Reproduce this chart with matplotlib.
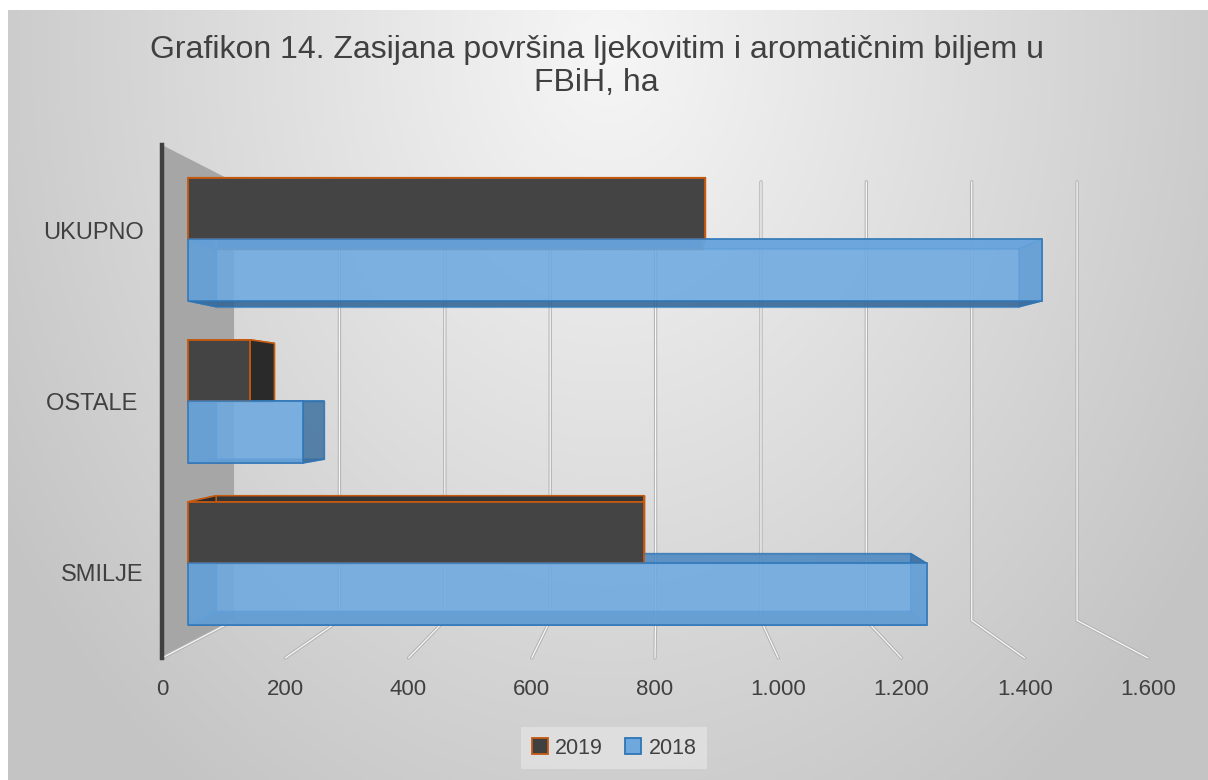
import matplotlib.pyplot as plt
import numpy as np
from matplotlib.patches import Polygon, Patch
from matplotlib.ticker import FuncFormatter

plt.rcParams['font.family'] = ['Liberation Sans', 'DejaVu Sans']

# Podaci (ha)
kategorije = ['SMILJE', 'OSTALE ', 'UKUPNO']
god_2019 = [780, 106, 886]
god_2018 = [1265, 197, 1462]
x_ticks = [0, 200, 400, 600, 800, 1000, 1200, 1400, 1600]

W, H = 1208, 780
fig = plt.figure(figsize=(W / 100, H / 100), dpi=100)
fig.patch.set_facecolor('white')

# pozadina - radijalni gradijent
bg = fig.add_axes([8 / W, 0, (W - 8) / W, (H - 10) / H], zorder=0)
yy, xx = np.mgrid[0:H, 0:W]
r = np.sqrt(((xx - 0.5 * W) / (0.55 * W)) ** 2 + ((yy - 0.05 * H) / (1.1 * H)) ** 2)
val = np.clip(0.965 - 0.18 * r, 0.77, 1)
bg.imshow(np.dstack([val, val, val]), aspect='auto', extent=(0, 1, 0, 1))
bg.axis('off')

# perspektiva: svaka ravan je skalirana oko tacke nestajanja
VX, VY = 659, 399
FRONT = (162, 1148, 145, 658)


def ravan(kx, ky, z):
    l = VX - (VX - FRONT[0]) * kx
    rr = VX + (FRONT[1] - VX) * kx
    t = VY - (VY - FRONT[2]) * ky
    b = VY + (FRONT[3] - VY) * ky
    ax = fig.add_axes([l / W, 1 - b / H, (rr - l) / W, (b - t) / H], zorder=z)
    ax.set_xlim(0, 1600)
    ax.set_ylim(-0.5, 2.5)
    ax.patch.set_visible(False)
    return ax


ax_wall = ravan(0.855, 0.855, 1)
ax_wall.axis('off')
ov1 = fig.add_axes([0, 0, 1, 1], zorder=2)
ov1.set_xlim(0, W)
ov1.set_ylim(0, H)
ov1.axis('off')
ax_back = ravan(0.891, 0.891, 3)
ax_back.axis('off')
ov2 = fig.add_axes([0, 0, 1, 1], zorder=4)
ov2.set_xlim(0, W)
ov2.set_ylim(0, H)
ov2.axis('off')
ax_bf = ravan(0.948, 0.948, 5)
ax_bf.axis('off')
ax = ravan(1.0, 1.0, 6)


def px(a, x, y):
    return a.transData.transform((x, y))


# lijevi zid
ov1.add_patch(Polygon([px(ax, 0, -0.5), px(ax, 0, 2.5), px(ax_wall, 0, 2.5), px(ax_wall, 0, -0.5)],
                      closed=True, facecolor='#a6a6a6', edgecolor='none'))

# mreza na zadnjem zidu i podu
for t in x_ticks:
    pts = [px(ax_wall, t, 2.5), px(ax_wall, t, -0.5), px(ax, t, -0.5)]
    if t == 0:
        pts = pts[1:]
    xs = [p[0] for p in pts]
    ys = [p[1] for p in pts]
    ov1.plot(xs, ys, color='#b3b3b3', lw=2.4, solid_capstyle='round', solid_joinstyle='miter')
    ov1.plot(xs, ys, color='#f8f8f8', lw=0.9, solid_capstyle='round', solid_joinstyle='miter')

h = 0.38
y19 = np.arange(3) + h / 2
y18 = np.arange(3) - h / 2

stil = {
    '2019': dict(front='#444444', back='#444444', top='#353535', side='#2a2a2a', bottom='#2a2a2a',
                 edge='#c55a11', alpha=1.0, alpha_b=1.0),
    '2018': dict(front='#6eaae2', back='#5b9bd5', top='#4a86c0', side='#3f6f9c', bottom='#2f5f8e',
                 edge='#2e75b6', alpha=0.8, alpha_b=0.35),
}


def kutija(y, v, s):
    yt, yb = y + h / 2, y - h / 2
    lica = [
        (s['bottom'], [(0, yb), (v, yb)]),
        (s['top'], [(0, yt), (v, yt)]),
        (s['side'], [(0, yb), (0, yt)]),
        (s['side'], [(v, yb), (v, yt)]),
    ]
    for boja, (a, b) in lica:
        poly = [px(ax_bf, *a), px(ax_bf, *b), px(ax_back, *b), px(ax_back, *a)]
        ov2.add_patch(Polygon(poly, closed=True, facecolor=boja, edgecolor=s['edge'],
                              lw=1.1, alpha=s['alpha'], joinstyle='miter'))


for yv, vals, key in [(y19, god_2019, '2019'), (y18, god_2018, '2018')]:
    s = stil[key]
    ax_back.barh(yv, vals, height=h, color=s['back'], edgecolor=s['edge'], lw=1.0, alpha=s['alpha_b'])
    for y, v in zip(yv, vals):
        kutija(y, v, s)
    ax_bf.barh(yv, vals, height=h, color=s['front'], edgecolor=s['edge'], lw=1.3, alpha=s['alpha'])

# prednja ravan: osa i oznake
for sp in ['top', 'right', 'bottom']:
    ax.spines[sp].set_visible(False)
ax.spines['left'].set_color('#404040')
ax.spines['left'].set_linewidth(3.2)
ax.set_xticks(x_ticks)
ax.xaxis.set_major_formatter(FuncFormatter(lambda v, p: f'{int(v):,}'.replace(',', '.')))
ax.set_yticks(range(3))
ax.set_yticklabels(kategorije)
ax.tick_params(axis='x', length=0, pad=15, labelsize=16, labelcolor='#404040')
ax.tick_params(axis='y', length=0, pad=13, labelsize=17, labelcolor='#404040')

fig.text(0.494, 1 - 35 / H, 'Grafikon 14. Zasijana površina ljekovitim i aromatičnim biljem u\nFBiH, ha',
         ha='center', va='top', fontsize=23, color='#404040', linespacing=1.12)

handles = [Patch(facecolor='#404040', edgecolor='#c55a11', lw=1.3),
           Patch(facecolor='#6fa8dc', edgecolor='#2e75b6', lw=1.3)]
leg = fig.legend(handles, ['2019', '2018'], loc='center', bbox_to_anchor=(614 / W, 1 - 748 / H),
                 ncol=2, fontsize=15.5, frameon=True, fancybox=False, handlelength=0.75,
                 handleheight=0.75, handletextpad=0.35, columnspacing=1.0, borderpad=0.5)
leg.get_frame().set_facecolor('#e2e2e2')
leg.get_frame().set_edgecolor('none')
for t in leg.get_texts():
    t.set_color('#404040')

fig.savefig('out.png', dpi=100)
